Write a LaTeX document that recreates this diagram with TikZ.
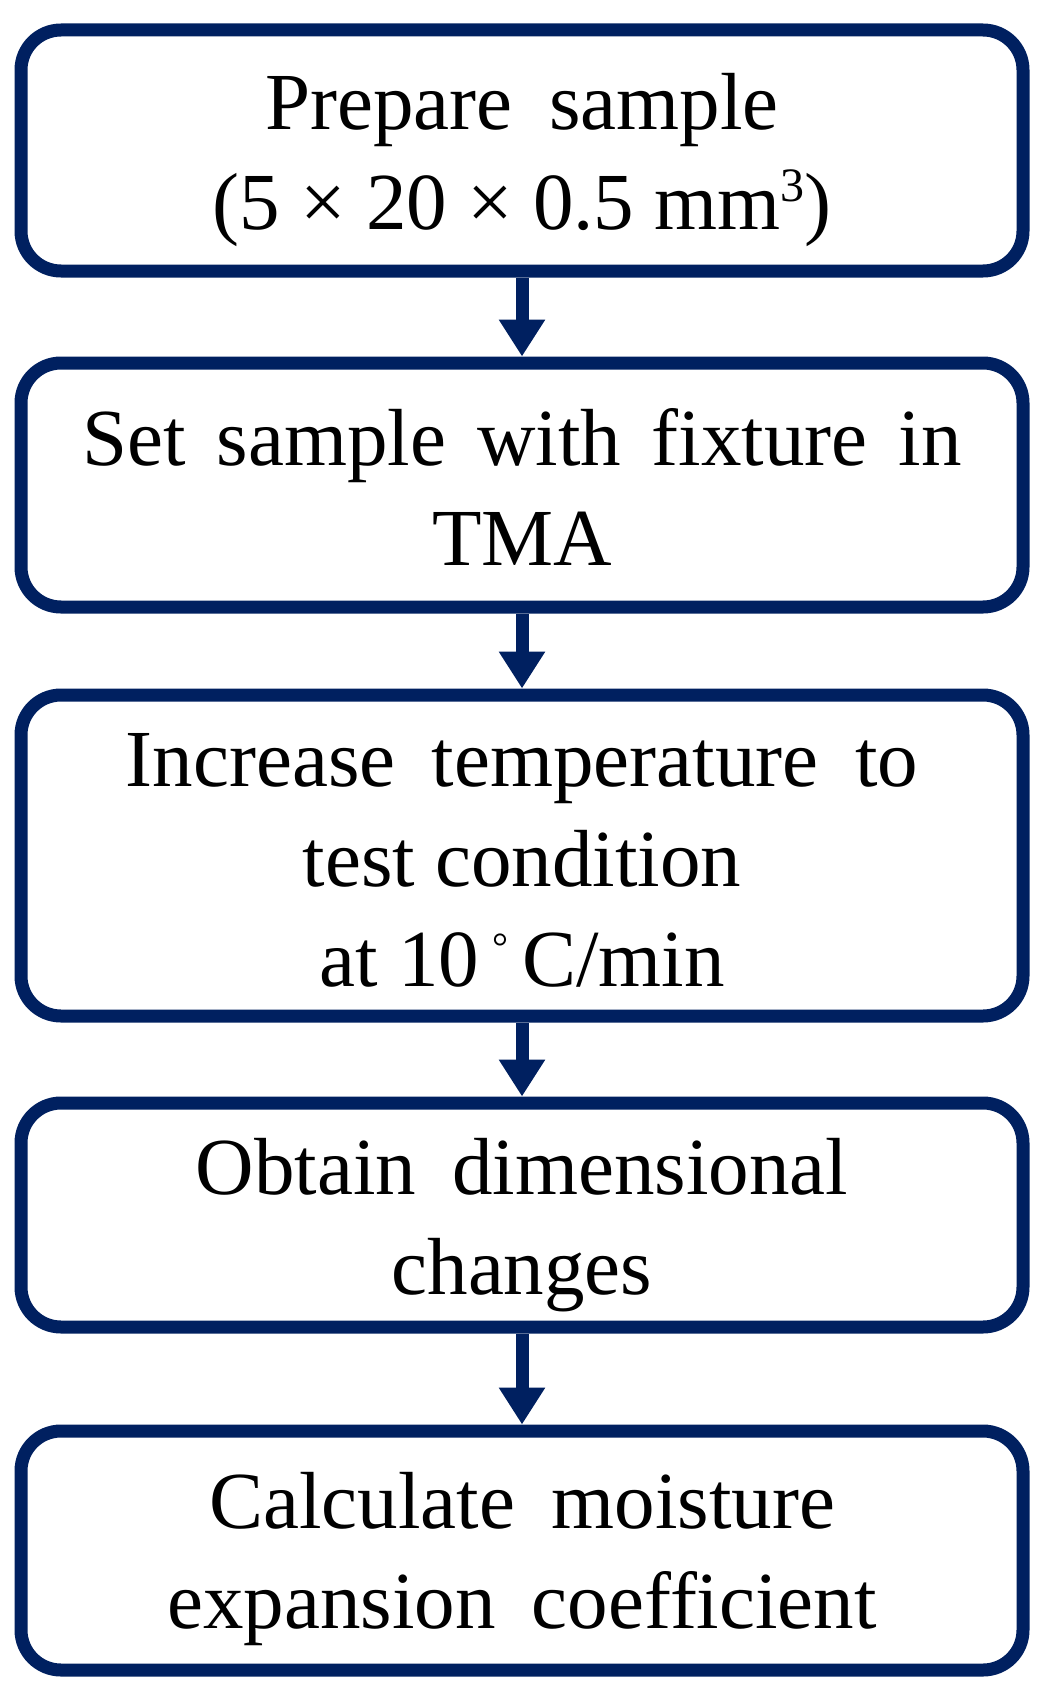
\documentclass[tikz,border=0pt]{standalone}
\usepackage{fontspec}
\setmainfont{Liberation Serif}
\usetikzlibrary{arrows.meta}
\definecolor{navy}{RGB}{0,32,96}
\newcommand\ws{\hspace{0.45em}}
\newcommand\wsn{\hspace{0.38em}}
\newcommand\degr{\,\raisebox{13pt}{\fontsize{20pt}{20pt}\selectfont °}\,}
\newcommand\cube{\raisebox{14pt}{\fontsize{24pt}{24pt}\selectfont 3}}
\tikzset{
  stepbox/.style={draw=navy, line width=6.5pt, rounded corners=20pt,
    minimum width=501pt, inner sep=0pt, fill=white},
  steptext/.style={inner sep=0pt, align=center,
    font=\fontsize{40.5pt}{50pt}\selectfont},
  flow/.style={draw=navy, line width=6.5pt,
    -{Triangle[width=22pt,length=18.5pt]}}
}
\begin{document}
\begin{tikzpicture}[x=0.5pt,y=-0.5pt]
\useasboundingbox (0,0) rectangle (1052,1702);
\node[stepbox, minimum height=120.5pt] (b1) at (522,150.5) {};
\node[steptext] (t1) at (522,160.5)
  {Prepare\ws sample\\(5 × 20 × 0.5 mm\cube)};
\node[stepbox, minimum height=122pt] (b2) at (522,485) {};
\node[steptext] (t2) at (522,487)
  {Set\wsn sample\wsn with\wsn fixture\wsn in\\TMA};
\node[stepbox, minimum height=160.5pt] (b3) at (522,855.5) {};
\node[steptext] (t3) at (522,860)
  {Increase\ws temperature\ws to\\test condition\\at 10\degr C/min};
\node[stepbox, minimum height=112pt] (b4) at (522,1215) {};
\node[steptext] (t4) at (522,1225)
  {Obtain\ws dimensional\\changes};
\node[stepbox, minimum height=119.5pt] (b5) at (522,1550.5) {};
\node[steptext] (t5) at (522,1559.5)
  {Calculate\ws moisture\\expansion\ws coefficient};
\draw[flow] (b1.south) -- (b2.north);
\draw[flow] (b2.south) -- (b3.north);
\draw[flow] (b3.south) -- (b4.north);
\draw[flow] (b4.south) -- (b5.north);
\end{tikzpicture}
\end{document}
